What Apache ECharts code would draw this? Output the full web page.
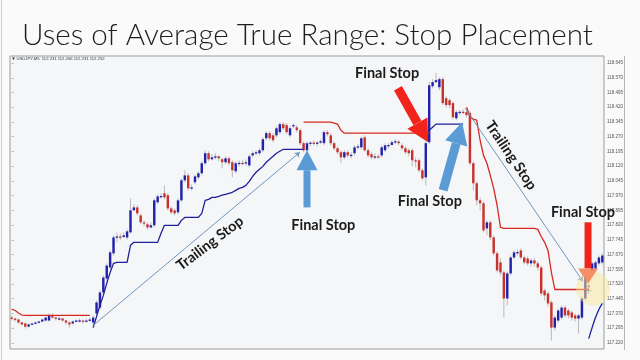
<!DOCTYPE html>
<html><head><meta charset="utf-8">
<script src="https://cdn.jsdelivr.net/npm/echarts@6/dist/echarts.min.js"></script>
<style>html,body{margin:0;padding:0;background:#fafafa;}#c{width:640px;height:360px;}</style>
</head><body><div id="c"></div>
<script>
const titleText = 'Uses of Average True Range: Stop Placement';
const symbolInfo = 'USDJPY,M5  112.231 112.266 112.231 112.252';
const yTicks = [117.220,117.295,117.370,117.445,117.520,117.595,117.670,117.745,117.820,117.895,117.970,118.045,118.120,118.195,118.270,118.345,118.420,118.495,118.570,118.645];
// [open, close, low, high]
const candles = [
[117.349,117.344,117.334,117.360],[117.344,117.339,117.329,117.349],[117.339,117.324,117.319,117.344],[117.324,117.314,117.309,117.329],
[117.319,117.303,117.293,117.324],[117.303,117.314,117.298,117.319],[117.314,117.319,117.309,117.324],[117.319,117.324,117.314,117.329],
[117.324,117.329,117.319,117.334],[117.329,117.339,117.324,117.344],[117.334,117.349,117.329,117.354],[117.334,117.360,117.329,117.370],
[117.360,117.349,117.344,117.370],[117.349,117.344,117.334,117.354],[117.344,117.345,117.334,117.354],[117.344,117.334,117.329,117.349],
[117.334,117.324,117.314,117.339],[117.324,117.314,117.298,117.329],[117.319,117.329,117.314,117.334],[117.329,117.334,117.324,117.339],
[117.334,117.335,117.324,117.344],[117.334,117.329,117.319,117.339],[117.329,117.334,117.324,117.344],[117.334,117.339,117.329,117.349],
[117.324,117.349,117.309,117.360],
[117.370,117.426,117.360,117.436],[117.400,117.477,117.390,117.487],[117.477,117.553,117.467,117.564],[117.548,117.614,117.538,117.625],
[117.604,117.681,117.594,117.691],[117.676,117.757,117.665,117.768],[117.757,117.762,117.732,117.783],[117.762,117.760,117.742,117.778],
[117.760,117.768,117.752,117.783],[117.757,117.788,117.747,117.798],[117.783,117.895,117.778,117.956],[117.895,117.910,117.895,117.926],
[117.910,117.880,117.869,117.921],[117.869,117.834,117.824,117.880],[117.834,117.829,117.814,117.844],[117.824,117.808,117.798,117.834],
[117.808,117.819,117.803,117.834],[117.819,117.946,117.808,117.956],[117.936,117.966,117.926,117.977],[117.966,117.968,117.956,117.982],
[117.982,117.961,117.951,118.022],[117.972,117.905,117.895,117.982],[117.905,117.885,117.875,117.915],[117.895,117.880,117.869,117.905],
[117.885,117.946,117.875,117.956],[117.946,118.048,117.936,118.058],[118.048,118.073,118.038,118.099],[118.073,118.007,117.997,118.084],
[118.007,118.012,117.997,118.027],[118.038,118.068,118.027,118.078],[118.063,118.084,118.053,118.094],[118.084,118.135,118.073,118.145],
[118.135,118.186,118.124,118.201],[118.186,118.155,118.145,118.196],[118.155,118.165,118.150,118.181],[118.165,118.170,118.155,118.186],
[118.170,118.160,118.145,118.175],[118.155,118.140,118.109,118.165],[118.140,118.160,118.130,118.170],[118.160,118.135,118.124,118.170],
[118.140,118.099,118.063,118.150],[118.094,118.135,118.084,118.145],[118.135,118.137,118.119,118.150],[118.137,118.135,118.124,118.150],
[118.135,118.140,118.124,118.155],[118.124,118.170,118.114,118.181],[118.175,118.186,118.165,118.196],[118.186,118.191,118.175,118.201],
[118.186,118.201,118.175,118.211],[118.201,118.257,118.191,118.267],[118.262,118.288,118.252,118.298],[118.288,118.262,118.252,118.298],
[118.277,118.252,118.242,118.288],[118.277,118.313,118.267,118.323],[118.293,118.334,118.283,118.344],[118.334,118.313,118.303,118.344],
[118.329,118.293,118.283,118.339],[118.277,118.313,118.267,118.323],[118.323,118.329,118.313,118.339],[118.318,118.303,118.293,118.329],
[118.303,118.237,118.226,118.313],[118.237,118.201,118.191,118.247],[118.201,118.237,118.191,118.247],[118.237,118.240,118.221,118.247],
[118.240,118.237,118.226,118.252],[118.237,118.240,118.221,118.247],[118.240,118.247,118.232,118.257],[118.237,118.293,118.226,118.303],
[118.293,118.283,118.272,118.303],[118.277,118.237,118.226,118.288],[118.237,118.211,118.201,118.247],[118.211,118.191,118.181,118.221],
[118.191,118.165,118.135,118.201],[118.165,118.191,118.155,118.201],[118.191,118.175,118.165,118.201],[118.175,118.178,118.160,118.191],
[118.186,118.216,118.175,118.226],[118.216,118.221,118.206,118.232],[118.216,118.262,118.206,118.272],[118.267,118.201,118.191,118.277],
[118.201,118.175,118.165,118.211],[118.181,118.165,118.155,118.191],[118.165,118.170,118.155,118.186],[118.170,118.168,118.160,118.181],
[118.175,118.216,118.165,118.226],[118.201,118.226,118.191,118.237],[118.226,118.228,118.211,118.237],[118.228,118.242,118.226,118.252],
[118.242,118.247,118.232,118.257],[118.245,118.237,118.226,118.252],[118.226,118.211,118.201,118.237],[118.211,118.191,118.181,118.221],
[118.201,118.186,118.170,118.211],[118.201,118.150,118.119,118.211],[118.150,118.148,118.114,118.165],[118.150,118.099,118.089,118.160],
[118.099,118.058,118.048,118.109],[118.063,118.237,118.022,118.247],[118.242,118.532,118.232,118.548],[118.527,118.548,118.517,118.563],
[118.548,118.558,118.543,118.594],[118.522,118.563,118.507,118.573],[118.563,118.441,118.431,118.573],[118.466,118.431,118.420,118.476],
[118.456,118.431,118.415,118.466],[118.441,118.369,118.359,118.451],[118.364,118.395,118.354,118.405],[118.395,118.397,118.380,118.405],
[118.397,118.395,118.385,118.410],[118.395,118.380,118.369,118.405],[118.390,118.135,118.124,118.400],[118.135,118.033,117.997,118.145],
[118.033,117.946,117.921,118.043],[117.946,117.931,117.895,117.961],[117.931,117.793,117.783,117.941],[117.803,117.834,117.768,117.844],
[117.834,117.757,117.742,117.844],[117.757,117.676,117.665,117.768],[117.676,117.589,117.579,117.686],[117.630,117.579,117.564,117.650],
[117.579,117.446,117.349,117.589],[117.446,117.574,117.411,117.584],[117.574,117.655,117.564,117.665],[117.655,117.681,117.645,117.691],
[117.681,117.683,117.665,117.696],[117.691,117.655,117.645,117.701],[117.655,117.630,117.620,117.665],[117.650,117.625,117.614,117.660],
[117.625,117.640,117.609,117.650],[117.640,117.625,117.609,117.650],[117.625,117.604,117.589,117.635],[117.604,117.472,117.457,117.614],
[117.487,117.462,117.436,117.497],[117.472,117.421,117.405,117.482],[117.426,117.298,117.232,117.436],[117.298,117.349,117.283,117.360],
[117.334,117.385,117.324,117.395],[117.349,117.400,117.339,117.411],[117.400,117.360,117.349,117.411],[117.385,117.360,117.344,117.395],
[117.375,117.349,117.334,117.385],[117.360,117.344,117.329,117.370],[117.344,117.360,117.268,117.370],[117.349,117.446,117.339,117.457],
[117.446,117.553,117.436,117.564],[117.512,117.510,117.477,117.548],[117.589,117.625,117.579,117.635],[117.599,117.630,117.589,117.640],
[117.625,117.655,117.614,117.665],[117.630,117.665,117.620,117.676]
];
// ATR trailing stop segments: start = candle index
const redStops = [
 {start:0, values:[117.392,117.385,117.372,117.362,117.360,117.360,117.360,117.360,117.360,117.360,117.360,117.360,117.360,117.360,117.360,117.360,117.360,117.360,117.360,117.360,117.360,117.360,117.360,117.360]},
 {start:86, values:[118.344,118.344,118.344,118.344,118.344,118.344,118.344,118.344,118.344,118.339,118.334,118.303,118.288,118.288,118.288,118.288,118.288,118.288,118.288,118.288,118.288,118.288,118.288,118.288,118.288,118.288,118.288,118.288,118.288,118.288,118.288,118.288,118.288,118.288,118.288,118.288,118.288,118.288]},
 {start:134, values:[118.420,118.374,118.359,118.354,118.252,118.175,118.135,118.073,118.007,117.921,117.808,117.803,117.803,117.803,117.803,117.803,117.803,117.803,117.803,117.803,117.803,117.798,117.762,117.732,117.691,117.579,117.492,117.492,117.492,117.492,117.492,117.492,117.492,117.492,117.492,117.492,117.492]}
];
const blueStops = [
 {start:24, values:[117.298,117.354,117.411,117.462,117.523,117.579,117.625,117.630,117.630,117.630,117.630,117.717,117.732,117.732,117.732,117.732,117.732,117.732,117.732,117.732,117.778,117.819,117.819,117.819,117.819,117.819,117.844,117.859,117.859,117.859,117.859,117.859,117.880,117.946,117.951,117.961,117.961,117.966,117.972,117.977,117.982,117.987,117.997,118.007,118.012,118.022,118.043,118.068,118.089,118.104,118.119,118.140,118.155,118.170,118.186,118.196,118.206,118.206,118.206,118.206,118.206,118.206,118.206]},
 {start:123, values:[118.303,118.318,118.334,118.334,118.334,118.334,118.334,118.334,118.334,118.334,118.334]},
 {start:170, values:[117.242,117.298,117.349,117.390,117.421]}
];
// annotation anchors in data coordinates [candle index, price]
const trailLines = [[[24.0,117.309],[84.9,118.191]],[[133.6,118.415],[168.3,117.533]]];
const arrowAnchors = [
 {tail:[87.0,117.910], tip:[87.0,118.201]},
 {tail:[113.8,118.517], tip:[122.7,118.242]},
 {tail:[127.1,117.997], tip:[132.7,118.344]},
 {tail:[169.8,117.834], tip:[169.8,117.523]}
];
const noteTexts = ['Trailing Stop','Final Stop','Final Stop','Final Stop','Trailing Stop','Final Stop'];
const noteAnchors = [[58.4,117.727],[91.8,117.819],[110.6,118.594],[123.2,117.941],[147.1,118.175],[168.3,117.885]];
const noteAngles = [37,0,0,0,-56,0];
const highlightAnchor = [171.3,117.497];

const N = candles.length;
const chart = echarts.init(document.getElementById('c'), null, {renderer:'canvas'});
const lineSeries = [];
redStops.forEach(s => lineSeries.push({type:'line', data:s.values.map((v,k)=>[s.start+k,v]), symbol:'none', z:4,
  lineStyle:{color:'#d52a22', width:1.3}, silent:true}));
blueStops.forEach((s,j) => lineSeries.push({type:'line', data:s.values.map((v,k)=>[s.start+k,v]), symbol:'none', z:4,
  smooth: j===2 ? 0.4 : false, lineStyle:{color:'#1f1f9c', width:1.3}, silent:true}));

chart.setOption({
  animation:false,
  grid:{left:10, right:36, top:56, bottom:11, show:true, backgroundColor:'#f5f6f8', borderColor:'#9c9c9c', borderWidth:1},
  xAxis:{type:'value', min:-0.5, max:N-0.5, show:false},
  yAxis:{type:'value', position:'right', min:117.189, max:118.681,
    axisLine:{show:false}, splitLine:{show:false},
    axisTick:{show:true, customValues:yTicks, length:2, lineStyle:{color:'#888', width:0.6}},
    axisLabel:{customValues:yTicks, formatter:v=>v.toFixed(3), fontSize:4.5, color:'#555', margin:3, fontFamily:'Liberation Sans'}},
  series:[
    {type:'custom', z:3, data:candles.map((d,i)=>[i,d[0],d[1],d[2],d[3]]), encode:{x:0,y:[1,2,3,4]},
     renderItem:(params, api)=>{
       const x=api.value(0), o=api.value(1), c=api.value(2), l=api.value(3), h=api.value(4);
       const pO=api.coord([x,o]), pC=api.coord([x,c]), pL=api.coord([x,l]), pH=api.coord([x,h]);
       const w=api.size([1,0])[0]*0.72;
       const top=Math.min(pO[1],pC[1]); const bh=Math.max(Math.abs(pO[1]-pC[1]),1.3);
       return {type:'group', children:[
         {type:'line', shape:{x1:pL[0],y1:pL[1],x2:pH[0],y2:pH[1]}, style:{stroke:'#a9a9ad', lineWidth:0.8}},
         {type:'rect', shape:{x:pO[0]-w/2, y:top, width:w, height:bh}, style:{fill: c>=o ? '#2222a8' : '#c8322c'}}
       ]};
     }},
    ...lineSeries,
    {type:'lines', coordinateSystem:'cartesian2d', z:5, symbol:['none','arrow'], symbolSize:5,
     lineStyle:{color:'#7396bd', width:1, opacity:1},
     data:trailLines.map(c=>({coords:c}))}
  ]
});

function px(p){ return chart.convertToPixel({gridIndex:0}, p); }
const arrowStyles = [
  {color:'#5b9bd5', shaft:7, head:21, headLen:20},
  {color:'#f2231b', shaft:9, head:23, headLen:22},
  {color:'#5b9bd5', shaft:9, head:23, headLen:22},
  {color:'#f2231b', headColor:'rgba(245,135,90,0.92)', shaft:7, head:20, headLen:15}
];
const graphics = [];
graphics.push({type:'line', shape:{x1:1.5,y1:0,x2:1.5,y2:360}, style:{stroke:'#cfcfcf', lineWidth:1}, silent:true});
graphics.push({type:'line', shape:{x1:624.5,y1:56,x2:624.5,y2:350}, style:{stroke:'#b5b5b5', lineWidth:1}, silent:true});
graphics.push({type:'text', x:22, y:35, style:{text:titleText, font:'300 29.6px Lato', fill:'#1e1e1e', align:'left', verticalAlign:'middle'}});
graphics.push({type:'polygon', shape:{points:[[12,57.5],[15,57.5],[13.5,60]]}, style:{fill:'#333'}});
graphics.push({type:'text', x:16.5, y:59, style:{text:symbolInfo, font:'4.2px Liberation Sans', fill:'#333', align:'left', verticalAlign:'middle'}});
// highlight circle
const hc = px(highlightAnchor);
graphics.push({type:'circle', shape:{cx:hc[0], cy:hc[1], r:17}, style:{fill:'rgba(250,232,150,0.5)'}, z:10});
graphics.push({type:'line', shape:{x1:hc[0]-9,y1:hc[1]+2,x2:hc[0]-1,y2:hc[1]+2}, style:{stroke:'#777', lineWidth:0.6, lineDash:[1,1]}, z:11});
graphics.push({type:'line', shape:{x1:hc[0]-5,y1:hc[1]-2,x2:hc[0]-5,y2:hc[1]+6}, style:{stroke:'#777', lineWidth:0.6, lineDash:[1,1]}, z:11});
arrowAnchors.forEach((a,i)=>{
  const s = arrowStyles[i]; const T = px(a.tip), B = px(a.tail);
  const dx=T[0]-B[0], dy=T[1]-B[1], L=Math.hypot(dx,dy), ux=dx/L, uy=dy/L, nx=-uy, ny=ux;
  const bx=T[0]-ux*s.headLen, by=T[1]-uy*s.headLen;
  const sh=s.shaft/2, hh=s.head/2;
  graphics.push({type:'polygon', z:12, shape:{points:[[B[0]+nx*sh,B[1]+ny*sh],[bx+nx*sh,by+ny*sh],[bx-nx*sh,by-ny*sh],[B[0]-nx*sh,B[1]-ny*sh]]}, style:{fill:s.color}});
  graphics.push({type:'polygon', z:12, shape:{points:[[bx+nx*hh,by+ny*hh],T,[bx-nx*hh,by-ny*hh]]}, style:{fill:s.headColor||s.color}});
});
noteTexts.forEach((t,i)=>{
  const p = px(noteAnchors[i]);
  graphics.push({type:'text', z:13, x:p[0], y:p[1], rotation:noteAngles[i]*Math.PI/180,
    style:{text:t, font:'bold 14.5px Lato', fill:'#1b1b1b', align:'center', verticalAlign:'middle'}});
});
chart.setOption({graphic:{elements:graphics}});
</script></body></html>
